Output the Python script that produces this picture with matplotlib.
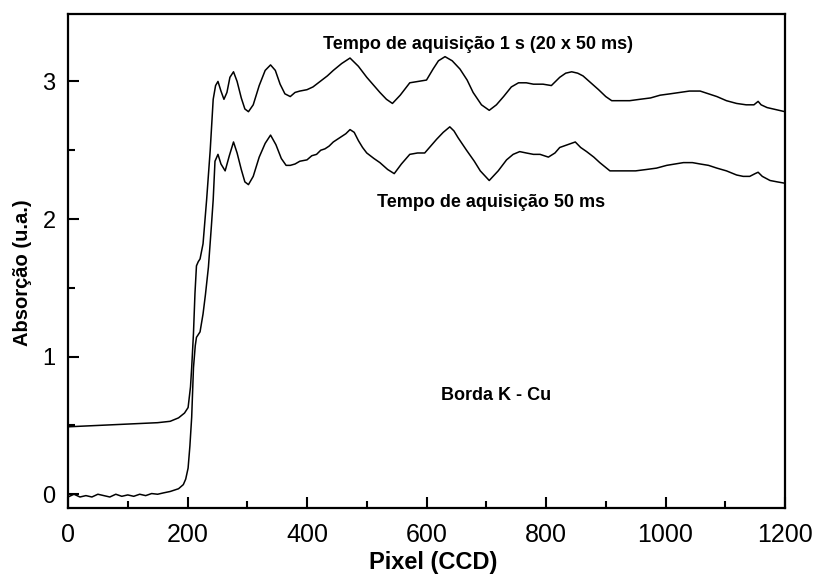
import matplotlib
matplotlib.use("Agg")
import matplotlib.pyplot as plt
from matplotlib.ticker import MultipleLocator

plt.rcParams["font.family"] = ["Liberation Sans", "DejaVu Sans"]

# curva superior: tempo de aquisição 1 s (20 x 50 ms)
x_1s = [0, 50, 100, 150, 171, 185, 195, 201, 205, 207, 210, 212.5, 215, 218, 221, 226, 232, 238,
        243, 247, 251, 256, 261, 266, 271, 277, 283, 290, 296, 302, 310, 320, 330, 339, 347, 355,
        363, 372, 380, 388, 400, 410, 422, 434, 444, 458, 472, 486, 500, 512, 522, 533, 543, 556,
        572, 586, 600, 611, 620, 631, 643, 656, 668, 678, 692, 705, 717, 729, 742, 754, 767, 779,
        795, 809, 823, 833, 843, 853, 862, 875, 888, 900, 910, 924, 940, 957, 975, 991, 1008, 1024,
        1040, 1058, 1072, 1086, 1102, 1119, 1135, 1148, 1155, 1160, 1170, 1180, 1190, 1200]
y_1s = [0.49, 0.50, 0.51, 0.52, 0.53, 0.555, 0.59, 0.63, 0.78, 0.92, 1.17, 1.46, 1.66, 1.69, 1.71,
        1.82, 2.14, 2.50, 2.87, 2.97, 3.00, 2.93, 2.87, 2.92, 3.03, 3.07, 3.00, 2.88, 2.80, 2.78,
        2.83, 2.97, 3.08, 3.12, 3.08, 2.98, 2.91, 2.89, 2.92, 2.93, 2.94, 2.96, 3.00, 3.04, 3.08,
        3.13, 3.17, 3.11, 3.03, 2.97, 2.92, 2.87, 2.84, 2.90, 2.99, 3.00, 3.01, 3.09, 3.15, 3.18,
        3.15, 3.09, 3.01, 2.92, 2.83, 2.79, 2.83, 2.89, 2.96, 2.99, 2.99, 2.98, 2.98, 2.97, 3.03,
        3.06, 3.07, 3.06, 3.04, 2.99, 2.94, 2.89, 2.86, 2.86, 2.86, 2.87, 2.88, 2.90, 2.91, 2.92,
        2.93, 2.93, 2.91, 2.89, 2.86, 2.84, 2.83, 2.83, 2.855, 2.83, 2.81, 2.80, 2.79, 2.78]

# curva inferior: tempo de aquisição 50 ms
x_50ms = [0, 10, 20, 30, 40, 50, 60, 70, 80, 90, 100, 110, 120, 130, 140, 150, 160, 171, 185, 193,
          197, 201, 204, 207, 210, 213, 215, 218, 221, 226, 230, 235, 240, 243, 246, 251, 256, 263,
          270, 277, 283, 290, 296, 302, 310, 320, 330, 339, 348, 357, 365, 372, 380, 388, 400, 408,
          416, 423, 430, 437, 444, 451, 458, 465, 472, 479, 486, 493, 500, 512, 522, 535, 546, 558,
          572, 585, 597, 607, 617, 628, 639, 646, 653, 667, 680, 690, 705, 720, 734, 745, 756, 767,
          779, 790, 804, 815, 823, 836, 849, 858, 868, 880, 890, 907, 920, 935, 950, 968, 985, 1002,
          1016, 1030, 1045, 1058, 1072, 1086, 1102, 1119, 1130, 1141, 1150, 1155, 1162, 1175, 1187,
          1200]
y_50ms = [-0.02, 0.00, -0.02, -0.01, -0.02, 0.00, -0.01, -0.02, 0.00, -0.015, -0.005, -0.015, 0.00,
          -0.01, 0.005, 0.00, 0.01, 0.02, 0.04, 0.07, 0.11, 0.19, 0.35, 0.56, 0.92, 1.08, 1.14,
          1.16, 1.18, 1.31, 1.45, 1.65, 1.95, 2.14, 2.42, 2.47, 2.40, 2.35, 2.46, 2.56, 2.48, 2.36,
          2.27, 2.25, 2.31, 2.45, 2.55, 2.61, 2.54, 2.44, 2.39, 2.39, 2.40, 2.42, 2.43, 2.46, 2.47,
          2.50, 2.51, 2.53, 2.56, 2.58, 2.60, 2.62, 2.65, 2.63, 2.57, 2.52, 2.48, 2.44, 2.41, 2.36,
          2.33, 2.40, 2.47, 2.48, 2.48, 2.53, 2.58, 2.63, 2.67, 2.64, 2.59, 2.50, 2.42, 2.35, 2.28,
          2.35, 2.43, 2.47, 2.49, 2.48, 2.47, 2.47, 2.45, 2.48, 2.52, 2.54, 2.56, 2.52, 2.49, 2.45,
          2.41, 2.35, 2.35, 2.35, 2.35, 2.36, 2.37, 2.39, 2.40, 2.41, 2.41, 2.40, 2.39, 2.37, 2.35,
          2.32, 2.31, 2.31, 2.33, 2.34, 2.31, 2.28, 2.27, 2.26]

fig = plt.figure(figsize=(8.16, 5.76), dpi=100)
ax = fig.add_axes([68 / 816, 1 - 508 / 576, (785 - 68) / 816, (508 - 14) / 576])

ax.plot(x_1s, y_1s, color="black", lw=1.1)
ax.plot(x_50ms, y_50ms, color="black", lw=1.1)

ax.set_xlim(0, 1200)
ax.set_ylim(-0.10, 3.49)
ax.xaxis.set_major_locator(MultipleLocator(200))
ax.xaxis.set_minor_locator(MultipleLocator(100))
ax.yaxis.set_major_locator(MultipleLocator(1))
ax.yaxis.set_minor_locator(MultipleLocator(0.5))
ax.tick_params(which="both", direction="in", width=1.5)
ax.tick_params(which="major", length=8)
ax.tick_params(which="minor", length=5)
ax.tick_params(axis="x", pad=11, labelsize=18)
ax.tick_params(axis="y", pad=9, labelsize=17)
for s in ax.spines.values():
    s.set_linewidth(1.6)

# posição dos rótulos pelo centro do texto
ax.set_xlabel("Pixel (CCD)", fontsize=17, fontweight="bold", va="center")
ax.xaxis.set_label_coords(0.51, -0.11)
ax.set_ylabel("Absorção (u.a.)", fontsize=14.5, fontweight="bold", va="center")
ax.yaxis.set_label_coords(-0.063, 0.476)

ax.text(687, 3.27, "Tempo de aquisição 1 s (20 x 50 ms)", ha="center", va="center",
        fontsize=13, fontweight="bold")
ax.text(708, 2.12, "Tempo de aquisição 50 ms", ha="center", va="center",
        fontsize=13, fontweight="bold")
ax.text(716, 0.72, "Borda K - Cu", ha="center", va="center",
        fontsize=13, fontweight="bold")

fig.savefig("out.png", dpi=100)
